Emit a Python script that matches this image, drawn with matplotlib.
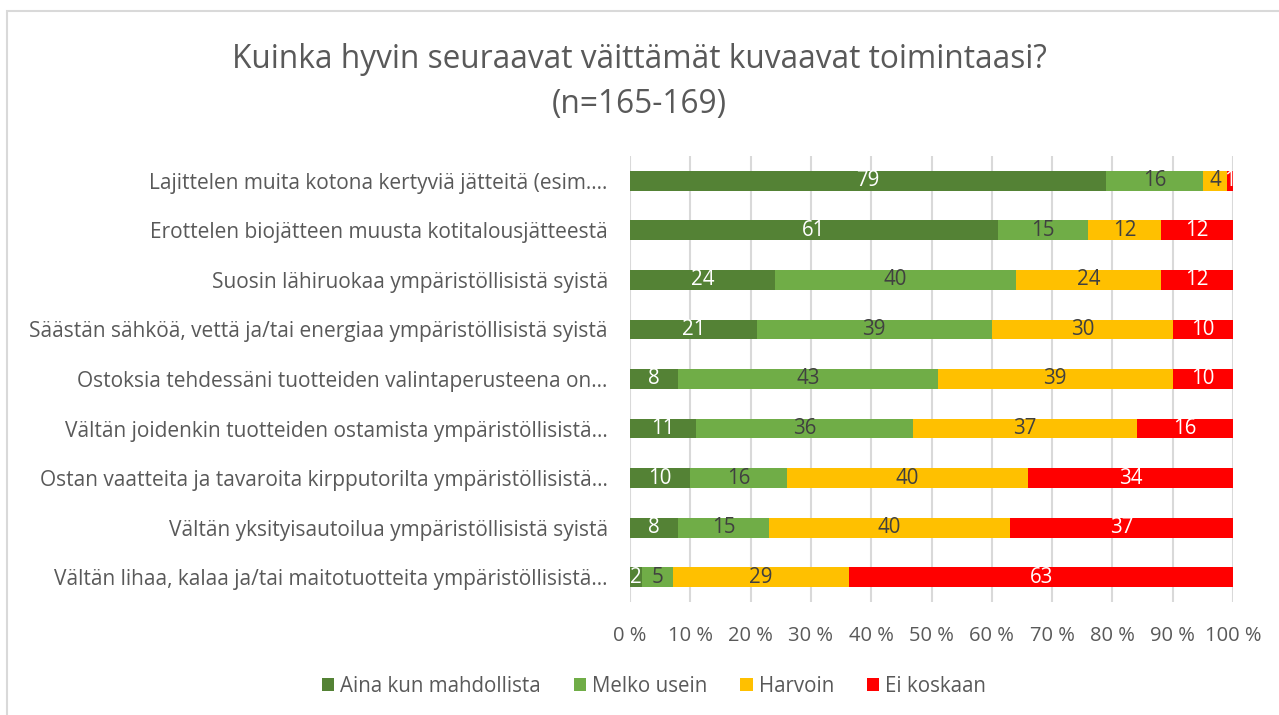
import matplotlib
matplotlib.use("Agg")
import matplotlib.pyplot as plt
import numpy as np
from matplotlib.patches import Rectangle

plt.rcParams['font.family'] = ['Open Sans', 'DejaVu Sans']

categories = [
    "Lajittelen muita kotona kertyviä jätteitä (esim.…",
    "Erottelen biojätteen muusta kotitalousjätteestä",
    "Suosin lähiruokaa ympäristöllisistä syistä",
    "Säästän sähköä, vettä ja/tai energiaa ympäristöllisistä syistä",
    "Ostoksia tehdessäni tuotteiden valintaperusteena on…",
    "Vältän joidenkin tuotteiden ostamista ympäristöllisistä…",
    "Ostan vaatteita ja tavaroita kirpputorilta ympäristöllisistä…",
    "Vältän yksityisautoilua ympäristöllisistä syistä",
    "Vältän lihaa, kalaa ja/tai maitotuotteita ympäristöllisistä…",
]
series_names = ["Aina kun mahdollista", "Melko usein", "Harvoin", "Ei koskaan"]
aina = [79, 61, 24, 21, 8, 11, 10, 8, 2]
melko = [16, 15, 40, 39, 43, 36, 16, 15, 5]
harvoin = [4, 12, 24, 30, 39, 37, 40, 40, 29]
ei = [1, 12, 12, 10, 10, 16, 34, 37, 63]
xticks = [0, 10, 20, 30, 40, 50, 60, 70, 80, 90, 100]
xtick_labels = ["0 %", "10 %", "20 %", "30 %", "40 %", "50 %", "60 %", "70 %", "80 %", "90 %", "100 %"]

colors = ["#548235", "#70AD47", "#FFC000", "#FF0000"]
label_colors = ["white", "#404040", "#404040", "white"]
text_color = "#595959"

W, H = 1279, 715
fig = plt.figure(figsize=(W / 100, H / 100), dpi=100)
ax = fig.add_axes([630 / W, 1 - 602 / H, (1233 - 630) / W, (602 - 156) / H])

data = np.array([aina, melko, harvoin, ei], dtype=float)
totals = data.sum(axis=0)
pct = data / totals * 100
y = np.arange(len(categories))
left = np.zeros(len(categories))
for i, name in enumerate(series_names):
    bars = ax.barh(y, pct[i], left=left, height=0.4, color=colors[i], label=name, zorder=3)
    for j, b in enumerate(bars):
        cx = left[j] + pct[i][j] / 2
        ax.text(cx, y[j], f"{int(data[i][j])}", ha="center", va="center",
                color=label_colors[i], fontsize=14.8, zorder=4)
    left += pct[i]

ax.set_xlim(0, 100)
ax.set_ylim(len(categories) - 0.5, -0.5)
ax.set_yticks(y)
ax.set_yticklabels(categories, fontsize=15, color=text_color)
ax.set_xticks(xticks)
ax.set_xticklabels(xtick_labels, fontsize=14.5, color=text_color)
ax.tick_params(axis="both", length=0)
ax.tick_params(axis="y", pad=16)
ax.tick_params(axis="x", pad=17)
ax.grid(axis="x", color="#D9D9D9", linewidth=1.5, zorder=0)
for s in ax.spines.values():
    s.set_visible(False)

fig.text(0.5, 1 - 60 / H, "Kuinka hyvin seuraavat väittämät kuvaavat toimintaasi?",
         ha="center", va="center", fontsize=22.8, color=text_color)
fig.text(0.5, 1 - 104 / H, "(n=165-169)", ha="center", va="center", fontsize=22.8, color=text_color)

fig.legend(loc="center", bbox_to_anchor=(654 / W, 1 - 686 / H), ncol=4, frameon=False,
           fontsize=14.8, handlelength=0.6, handleheight=0.6, handletextpad=0.3,
           columnspacing=1.6, labelcolor=text_color)

fig.patches.append(Rectangle((7 / W, -0.1), 1.2, 1 - 11 / H + 0.1, transform=fig.transFigure,
                             fill=False, edgecolor="#D9D9D9", linewidth=1.5))

fig.savefig("out.png", dpi=100)
